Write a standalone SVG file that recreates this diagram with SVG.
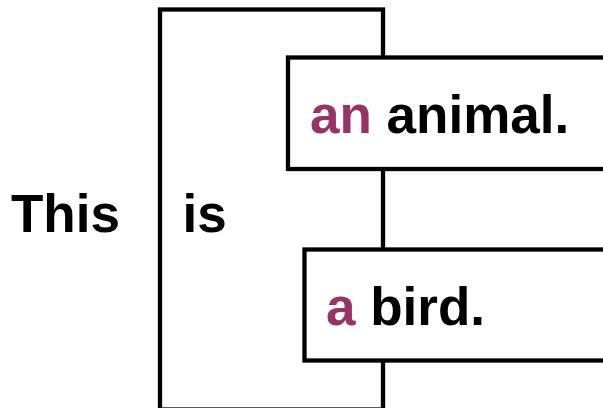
<svg xmlns="http://www.w3.org/2000/svg" width="603" height="408" viewBox="0 0 603 408">
<style>
.box{fill:#fff;stroke:#000;stroke-width:4.3}
.t{font-family:"Liberation Sans",Arial,sans-serif;font-weight:bold;font-size:53px;fill:#000}
.p{fill:#993366}
</style>
<rect width="603" height="408" fill="#fff"/>
<g id="this"><text class="t" x="11" y="231.7">This</text></g>
<g id="is">
<rect class="box" x="160" y="9.5" width="223" height="400"/>
<text class="t" x="182.5" y="231.7">is</text>
</g>
<g id="animal">
<rect class="box" x="288" y="57.5" width="330" height="111.5"/>
<text class="t" x="310" y="132.7"><tspan class="p">an</tspan> animal.</text>
</g>
<g id="bird">
<rect class="box" x="304.5" y="249.5" width="320" height="111"/>
<text class="t" x="326" y="325"><tspan class="p">a</tspan> bird.</text>
</g>
<g id="connectors"></g>
</svg>
